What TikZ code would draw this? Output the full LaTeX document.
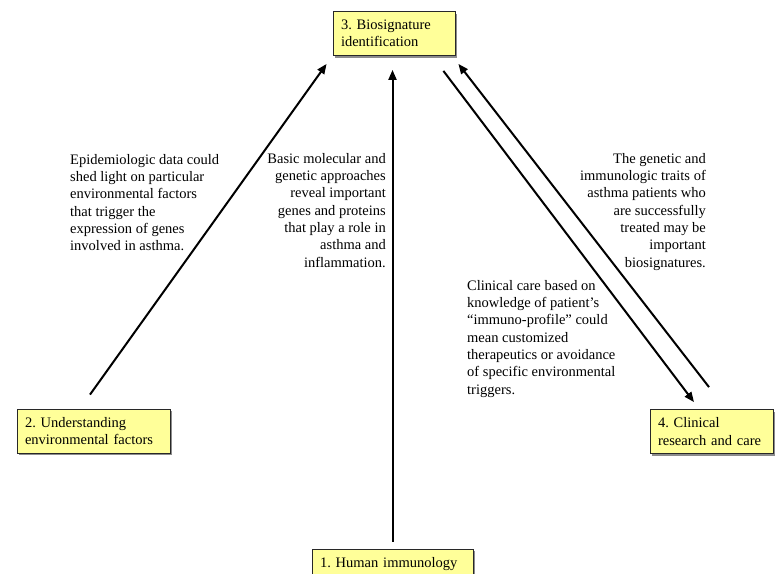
\documentclass[tikz,border=0pt]{standalone}
\usepackage{fontspec}
\setmainfont{Liberation Serif}
\usepackage{tikz}
\usetikzlibrary{positioning,arrows.meta,calc,shadows}
\definecolor{paleyellow}{RGB}{255,255,153}
\definecolor{boxedge}{RGB}{40,40,40}
\frenchspacing

\begin{document}
\begin{tikzpicture}[
  x=1pt, y=-1pt,
  every node/.style={font=\fontsize{14.5}{17.3}\selectfont\frenchspacing},
  stagebox/.style={rectangle, draw=boxedge, line width=0.8pt, fill=paleyellow,
                   drop shadow={shadow xshift=2pt, shadow yshift=-2pt, fill=black!45, opacity=1},
                   inner xsep=8pt, inner ysep=4pt, minimum height=44pt, align=left},
  notetext/.style={inner sep=0pt},
  flowarrow/.style={line width=2pt, -{Triangle[length=10pt,width=8pt]}}
]
  \useasboundingbox (0,0) rectangle (776,573);

  % the four stages
  \node[stagebox, text width=106pt] (bio)  at (394,33.5)  {3. Biosignature\\identification};
  \node[stagebox, text width=137pt] (env)  at (93.5,431)  {2. Understanding\\environmental factors};
  \node[stagebox, text width=107pt] (clin) at (711.5,431.5) {4. Clinical\\research and care};
  \node[stagebox, text width=145pt, text height=14pt, text depth=22pt] (hum) at (392.5,571) {1. Human immunology};

  % notes beside the arrows
  \node[notetext, anchor=north west, align=left]  (epi)  at (70,154)  {Epidemiologic data could\\shed light on particular\\environmental factors\\that trigger the\\expression of genes\\involved in asthma.};
  \node[notetext, anchor=north east, align=right] (mol)  at (386,153) {Basic molecular and\\genetic approaches\\reveal important\\genes and proteins\\that play a role in\\asthma and\\inflammation.};
  \node[notetext, anchor=north east, align=right] (gen)  at (706,153) {The genetic and\\immunologic traits of\\asthma patients who\\are successfully\\treated may be\\important\\biosignatures.};
  \node[notetext, anchor=north west, align=left]  (care) at (467,280) {Clinical care based on\\knowledge of patient’s\\“immuno-profile” could\\mean customized\\therapeutics or avoidance\\of specific environmental\\triggers.};

  % arrows
  \draw[flowarrow] ($(env.north)+(-3.5,-14)$) -- ($(bio.south west)+(-6,8)$);
  \draw[flowarrow] ($(hum.north)+(0,-7)$) -- ($(hum.north |- bio.south)+(0,14)$);
  \draw[flowarrow] ($(bio.south east)+(-12,15)$) -- ($(clin.north)+(-17.5,-7)$);
  \draw[flowarrow] ($(clin.north)+(-2.5,-22)$) -- ($(bio.south east)+(3,8)$);
\end{tikzpicture}
\end{document}
